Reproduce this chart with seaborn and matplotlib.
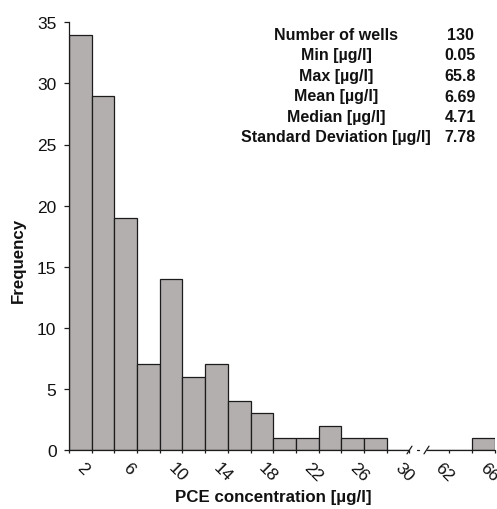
import numpy as np
import pandas as pd
import seaborn as sns
import matplotlib.pyplot as plt
import matplotlib.transforms as mtransforms

# histogram bins (left edge, ug/l) and well counts, bin width 2
bin_left = [0, 2, 4, 6, 8, 10, 12, 14, 16, 18, 20, 22, 24, 26, 28, 60, 62, 64]
counts = [34, 29, 19, 7, 14, 6, 7, 4, 3, 1, 1, 2, 1, 1, 0, 0, 0, 1]
BIN_W = 2

tick_values = [2, 6, 10, 14, 18, 22, 26, 30, 62, 66]
minor_values = [0, 4, 8, 12, 16, 20, 24, 28, 64]

stat_names = ["Number of wells", "Min [µg/l]", "Max [µg/l]", "Mean [µg/l]",
              "Median [µg/l]", "Standard Deviation [µg/l]"]
stat_values = ["130", "0.05", "65.8", "6.69", "4.71", "7.78"]

# axis break between 30 and 60
BREAK_LO, BREAK_HI, GAP = 30, 60, 1.5


def squeeze(v):
    v = np.asarray(v, dtype=float)
    return np.where(v >= BREAK_HI, v - BREAK_HI + BREAK_LO + GAP, v)


df = pd.DataFrame({"left": bin_left, "count": counts})
df["mid"] = squeeze(df["left"] + BIN_W / 2)

sns.set_style("white")
plt.rcParams["font.family"] = ["Liberation Sans", "DejaVu Sans"]
for k in ("text.color", "axes.labelcolor", "xtick.color", "ytick.color"):
    plt.rcParams[k] = "#111111"

fig = plt.figure(figsize=(4.97, 5.10), dpi=100)
W, H = 497, 510
x0, x1, y0, y1 = 69, 494.6, 451, 23.3
ax = fig.add_axes([x0 / W, 1 - y0 / H, (x1 - x0) / W, (y0 - y1) / H])

bar_col = "#b3afaf"
edge_col = "#1c1c1c"

low = df[df["left"] < BREAK_LO]
high = df[df["left"] >= BREAK_HI]
for part in (low, high):
    edges = np.append(squeeze(part["left"]), squeeze(part["left"].iloc[-1] + BIN_W))
    sns.histplot(data=part, x="mid", weights="count", bins=edges.tolist(), ax=ax,
                 color=bar_col, edgecolor=edge_col, linewidth=0.9, alpha=1)

ax.set_xlim(0, float(squeeze(66)))
ax.set_ylim(0, 35)
ax.set_yticks(range(0, 36, 5))

for s in ("top", "right", "bottom"):
    ax.spines[s].set_visible(False)
ax.spines["left"].set_color(edge_col)
ax.spines["left"].set_linewidth(0.9)

# broken x axis line
lo_end = float(squeeze(BREAK_LO))
hi_start = float(squeeze(BREAK_HI))
ax.plot([0, lo_end], [0, 0], color=edge_col, lw=0.9, clip_on=False, zorder=3)
ax.plot([hi_start, ax.get_xlim()[1]], [0, 0], color=edge_col, lw=0.9, clip_on=False, zorder=3)
xt = ax.get_xaxis_transform()
for xb in (lo_end, hi_start):
    ax.plot([xb - 0.22, xb + 0.22], [-0.009, 0.009], color=edge_col, lw=0.9,
            transform=xt, clip_on=False, zorder=3)
mid_b = (lo_end + hi_start) / 2
ax.plot([mid_b - 0.13, mid_b + 0.13], [0, 0], color=edge_col, lw=0.9,
        transform=xt, clip_on=False, zorder=3)

ax.set_xticks(squeeze(tick_values))
ax.set_xticklabels([str(v) for v in tick_values])
ax.set_xticks(squeeze(minor_values), minor=True)
ax.xaxis.get_major_ticks()[tick_values.index(30)].tick1line.set_visible(False)

ax.tick_params(axis="x", which="both", bottom=True, direction="out", length=2.5,
               width=0.9, color=edge_col, labelsize=12.5, pad=8.5)
ax.tick_params(axis="y", left=True, direction="out", length=3.5, width=0.9,
               color=edge_col, labelsize=12.5, pad=5.5)

shift = mtransforms.ScaledTranslation(-12 / 100, 0, fig.dpi_scale_trans)
for lab in ax.get_xticklabels():
    lab.set_rotation(-45)
    lab.set_ha("left")
    lab.set_va("center")
    lab.set_rotation_mode("anchor")
    lab.set_transform(lab.get_transform() + shift)

ax.set_xlabel("PCE concentration [µg/l]", fontsize=12.2, fontweight="bold")
ax.set_ylabel("Frequency", fontsize=12.2, fontweight="bold")
ax.xaxis.set_label_coords((273 - x0) / (x1 - x0), (y0 - 490) / (y0 - y1))
ax.yaxis.set_label_coords((26 - x0) / (x1 - x0), (y0 - 260) / (y0 - y1))

# summary statistics table
row_y = [35, 55.5, 76.5, 97, 117.5, 137.5]
for name, val, yy in zip(stat_names, stat_values, row_y):
    fig.text(336 / W, 1 - yy / H, name, ha="center", va="center",
             fontsize=11.5, fontweight="bold")
    fig.text(460 / W, 1 - yy / H, val, ha="center", va="center",
             fontsize=11.5, fontweight="bold")

fig.savefig("out.png", dpi=100)
